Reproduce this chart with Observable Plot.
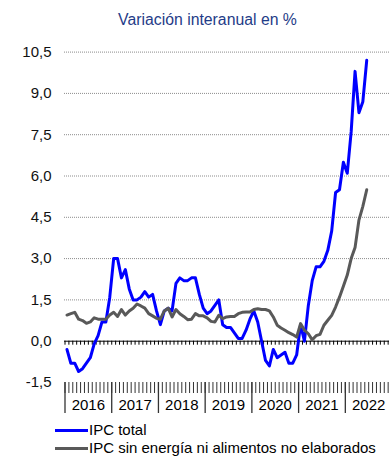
<!DOCTYPE html>
<html>
<head>
<meta charset="utf-8">
<script src="https://cdn.jsdelivr.net/npm/d3@7"></script>
<script src="https://cdn.jsdelivr.net/npm/@observablehq/plot@0.6"></script>
<style>
  html, body { margin: 0; padding: 0; background: #fff; overflow: hidden; width: 389px; height: 456px; }
  body { font-family: "Liberation Sans", Arial, sans-serif; position: relative; }
  #title { height: 30px; box-sizing: border-box; padding-left: 26px; text-align: center; font-size: 15.8px; line-height: 40px; color: #1F3C88; white-space: nowrap; }
  #chart svg { display: block; max-width: none; }
  #legend { font-size: 15px; color: #000; padding-left: 55px; margin-top: 1px; }
  .row { height: 18px; line-height: 18px; display: flex; align-items: center; }
  .swatch { width: 33px; height: 3px; margin-right: 1px; }
</style>
</head>
<body>
<div id="title">Variación interanual en %</div>
<div id="chart"></div>
<div id="legend"></div>
<script>
// ---- Data (Jan 2016 – Jun 2022, monthly) ----
const startYear = 2016;
const years = [2016, 2017, 2018, 2019, 2020, 2021, 2022];
const yTicks = [-1.5, 0, 1.5, 3, 4.5, 6, 7.5, 9, 10.5];
const seriesNames = ["IPC total", "IPC sin energía ni alimentos no elaborados"];
const seriesColors = ["#0000FF", "#595959"];

const ipcTotal = [
  -0.3, -0.8, -0.8, -1.1, -1.0, -0.8, -0.6, -0.1, 0.2, 0.7, 0.7, 1.6,
  3.0, 3.0, 2.3, 2.6, 1.9, 1.5, 1.5, 1.6, 1.8, 1.6, 1.7, 1.1,
  0.6, 1.1, 1.2, 1.1, 2.1, 2.3, 2.2, 2.2, 2.3, 2.3, 1.7, 1.2,
  1.0, 1.1, 1.3, 1.5, 0.6, 0.5, 0.5, 0.3, 0.1, 0.1, 0.4, 0.8,
  1.1, 0.7, 0.0, -0.7, -0.9, -0.3, -0.6, -0.5, -0.4, -0.8, -0.8, -0.5,
  0.6, 0.0, 1.3, 2.2, 2.7, 2.7, 2.9, 3.3, 4.0, 5.4, 5.5, 6.5,
  6.1, 7.6, 9.8, 8.3, 8.7, 10.2
];
const ipcSubyacente = [
  0.95, 1.0, 1.05, 0.8, 0.75, 0.65, 0.7, 0.85, 0.8, 0.8, 0.8, 0.95,
  1.05, 0.9, 1.15, 0.95, 1.1, 1.2, 1.35, 1.28, 1.2, 1.0, 0.92, 0.83,
  0.8, 1.1, 1.2, 0.88, 1.15, 1.0, 0.9, 0.78, 0.8, 1.0, 0.92, 0.92,
  0.85, 0.72, 0.7, 0.94, 0.82, 0.88, 0.9, 0.9, 1.0, 1.05, 1.06, 1.06,
  1.15, 1.18, 1.15, 1.15, 1.1, 0.88, 0.58, 0.48, 0.4, 0.31, 0.24, 0.15,
  0.64, 0.4, 0.27, 0.05, 0.2, 0.25, 0.58, 0.76, 0.94, 1.24, 1.6, 2.0,
  2.4, 3.0, 3.4, 4.4, 4.9, 5.5
];

// ---- Build tables ----
const toRows = (vals, name) => vals.map((v, i) => ({ t: startYear + (i + 0.5) / 12, v, name }));
const rowsTotal = toRows(ipcTotal, seriesNames[0]);
const rowsCore = toRows(ipcSubyacente, seriesNames[1]);
const monthEdges = d3.range(0, (years.length) * 12 + 1).map(k => startYear + k / 12);
const yearEdges = years.concat([years[years.length - 1] + 1]);

// layout constants (pixels)
const W = 389, H = 390;
const yTop = 21.6, yBottom = 352;
const pxPerUnit = (yBottom - yTop) / (yTicks[yTicks.length - 1] - yTicks[0]);
const yMin = yTicks[0];
const px = p => p / pxPerUnit;

const fmt = d => d3.format(".1f")(d).replace(".", ",").replace("−", "-");

const chart = Plot.plot({
  width: W,
  height: H,
  marginLeft: 64,
  marginRight: 0,
  marginTop: yTop,
  marginBottom: H - yBottom,
  style: { fontFamily: "'Liberation Sans', Arial, sans-serif", fontSize: "15px", color: "#111", background: "#fff", overflow: "visible" },
  x: { domain: [startYear, yearEdges[yearEdges.length - 1]], range: [64.5, 64.5 + 46.72 * years.length], axis: null },
  y: { domain: [yTicks[0], yTicks[yTicks.length - 1]], range: [yBottom, yTop], ticks: yTicks, tickFormat: fmt, tickSize: 0, tickPadding: 13, label: null },
  marks: [
    Plot.ruleY(yTicks.filter(d => d > 0), { stroke: "#8c8c8c", strokeWidth: 1, strokeDasharray: "1,1" }),
    Plot.ruleY([0], { stroke: "#000", strokeWidth: 1 }),
    Plot.ruleX(monthEdges, { x: d => d, y1: 0, y2: -px(4), stroke: "#000", strokeWidth: 1 }),
    Plot.ruleX(monthEdges, { x: d => d, y1: yMin, y2: yMin - px(11), stroke: "#333", strokeWidth: 1 }),
    Plot.ruleX(yearEdges, { x: d => d, y1: yMin, y2: yMin - px(31), stroke: "#333", strokeWidth: 1.3 }),
    Plot.text(years, { x: d => d + 0.5, y: yMin, dy: 23, text: d => String(d), fill: "#000", fontSize: 15 }),
    Plot.line(rowsTotal, { x: "t", y: "v", stroke: seriesColors[0], strokeWidth: 3, strokeLinejoin: "round" }),
    Plot.line(rowsCore, { x: "t", y: "v", stroke: seriesColors[1], strokeWidth: 3, strokeLinejoin: "round" })
  ]
});
document.getElementById("chart").appendChild(chart);

const legend = document.getElementById("legend");
seriesNames.forEach((n, i) => {
  const row = document.createElement("div");
  row.className = "row";
  const sw = document.createElement("span");
  sw.className = "swatch";
  sw.style.background = seriesColors[i];
  const label = document.createElement("span");
  label.textContent = n;
  row.appendChild(sw);
  row.appendChild(label);
  legend.appendChild(row);
});
</script>
</body>
</html>
